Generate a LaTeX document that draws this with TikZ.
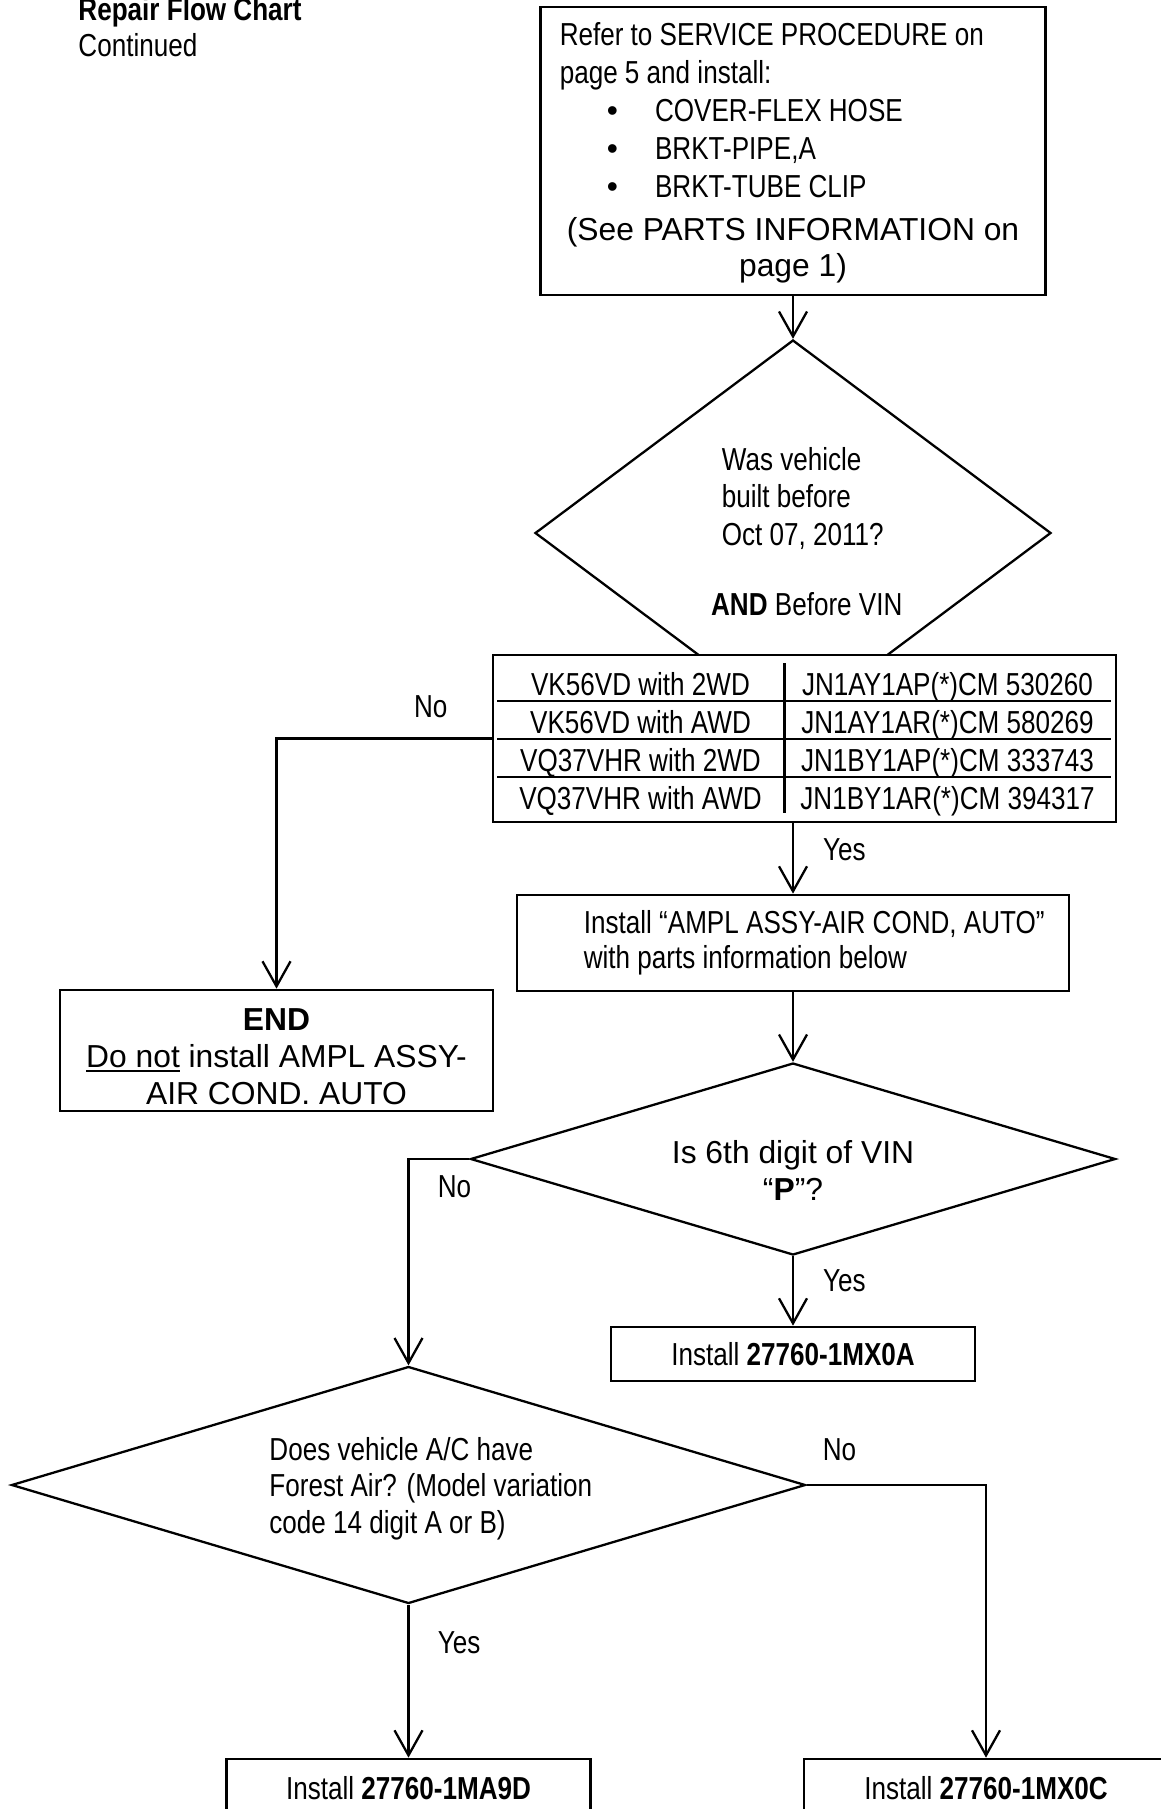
\documentclass[tikz,border=0pt]{standalone}
\usepackage{fontspec}
\setmainfont{Liberation Sans}
\newfontfamily\narrowfont{Liberation Sans}[FakeStretch=0.82]
\usetikzlibrary{shapes.geometric,arrows.meta}

\newcommand\flowsize{\fontsize{31.8}{37.5}\selectfont}
\newcommand\partitem[1]{\hspace*{47pt}\makebox[48.3pt][l]{\normalfont\textbullet}#1}
\newcommand\undl[1]{\begingroup\setbox0\hbox{#1}\rlap{\rule[-5pt]{\wd0}{2.5pt}}\box0\endgroup}

\begin{document}
\begin{tikzpicture}[x=1pt, y=-1pt, line width=2.3pt,
  flow/.style={-{Straight Barb[length=25pt,width=28pt]}},
  box/.style={draw, rectangle, line width=2.7pt, fill=white, inner sep=0pt},
  choice/.style={draw, diamond, inner sep=0pt},
  narrowtext/.style={font=\narrowfont\flowsize, inner sep=0pt},
  widetext/.style={font=\flowsize, inner sep=0pt}]

  \useasboundingbox (0,0) rectangle (1161,1809);
  \clip (0,0) rectangle (1161,1809);

  % heading
  \node[narrowtext, anchor=base west] (title) at (77.3,20.7) {\textbf{Repair Flow Chart}};
  \node[narrowtext, anchor=base west] (cont) at (77.3,56.7) {Continued};

  % service procedure
  \node[box, minimum width=505pt, minimum height=288pt] (svc) at (793,151) {};
  \node[narrowtext, align=left, anchor=base west, font=\narrowfont\fontsize{31.8}{38.2}\selectfont] (svctext) at (558.6,197.8)
    {Refer to SERVICE PROCEDURE on\\page 5 and install:\\\partitem{COVER-FLEX HOSE}\\\partitem{BRKT-PIPE,A}\\\partitem{BRKT-TUBE CLIP}};
  \node[widetext, align=center, anchor=base, font=\fontsize{31.8}{36.7}\selectfont] (svcparts) at (793,276.7)
    {(See PARTS INFORMATION on\\page 1)};

  % built before / VIN check
  \node[choice, minimum width=516pt, minimum height=386pt] (q1) at (793,533) {};
  \draw[flow] (svc) -- (q1);
  \node[narrowtext, align=left, anchor=base west, font=\narrowfont\fontsize{31.8}{37.2}\selectfont] (q1text) at (720.7,545.1)
    {Was vehicle\\built before\\Oct 07, 2011?};
  \node[narrowtext, anchor=base west] (q1and) at (710,615) {\textbf{AND} Before VIN};

  % VIN table
  \node[box, minimum width=623pt, minimum height=167pt] (vin) at (804.5,738.5) {};
  \foreach \y in {700.7,738.7,777} \draw (497,\y) -- (1111,\y);
  \draw (784.5,663) -- (784.5,813);
  \foreach \eng/\vinno [count=\r] in {VK56VD with 2WD/JN1AY1AP(*)CM 530260,
                                      VK56VD with AWD/JN1AY1AR(*)CM 580269,
                                      VQ37VHR with 2WD/JN1BY1AP(*)CM 333743,
                                      VQ37VHR with AWD/JN1BY1AR(*)CM 394317} {
    \node[narrowtext, anchor=base] (eng\r) at (640.5,657+38*\r) {\eng};
    \node[narrowtext, anchor=base] (vinno\r) at (947.5,657+38*\r) {\vinno};
  }

  % no: end
  \node[narrowtext, anchor=base west] (no1) at (413,717) {No};
  \node[box, minimum width=433pt, minimum height=121pt] (stop) at (276.5,1050.5) {};
  \node[widetext, align=center, anchor=base, font=\fontsize{31.8}{37}\selectfont] (stoptext) at (276.5,1104)
    {\textbf{END}\\\undl{Do not} install AMPL ASSY-\\AIR COND. AUTO};
  \draw[flow] (vin.west) -| (stop.north);

  % yes: install amplifier
  \node[box, minimum width=552pt, minimum height=96pt] (amp) at (793,943) {};
  \draw[flow] (vin.south -| amp.north) -- (amp.north);
  \node[narrowtext, anchor=base west] (yes1) at (822,860) {Yes};
  \node[narrowtext, align=left, anchor=base west, font=\narrowfont\fontsize{31.8}{35.5}\selectfont] (amptext) at (582.7,968.5)
    {Install “AMPL ASSY-AIR COND, AUTO”\\with parts information below};

  % 6th digit check
  \node[choice, minimum width=645pt, minimum height=192pt] (q2) at (793,1159) {};
  \draw[flow] (amp) -- (q2);
  \node[widetext, align=center, anchor=base, font=\fontsize{31.8}{36.7}\selectfont] (q2text) at (793,1200)
    {Is 6th digit of VIN\\“\textbf{P}”?};
  \node[box, narrowtext, minimum width=364pt, minimum height=54pt] (kit1) at (793,1354) {Install \textbf{27760-1MX0A}};
  \draw[flow] (q2) -- (kit1);
  \node[narrowtext, anchor=base west] (yes2) at (822,1291.7) {Yes};
  \node[narrowtext, anchor=base west] (no2) at (436.7,1197) {No};

  % forest air check
  \node[choice, minimum width=794pt, minimum height=237pt] (q3) at (408.5,1485) {};
  \draw[flow] (q2.west) -| (q3.north);
  \node[narrowtext, align=left, anchor=base west, font=\narrowfont\fontsize{31.8}{36.7}\selectfont] (q3text) at (268.3,1533.4)
    {Does vehicle A/C have\\Forest Air? (Model variation\\code 14 digit A or B)};
  \node[box, narrowtext, minimum width=364pt, minimum height=58pt] (kit2) at (408.5,1788) {Install \textbf{27760-1MA9D}};
  \node[box, narrowtext, minimum width=364pt, minimum height=58pt] (kit3) at (986,1788) {Install \textbf{27760-1MX0C}};
  \draw[flow] (q3.south) -- (kit2.north);
  \node[narrowtext, anchor=base west] (yes3) at (436.7,1653) {Yes};
  \draw[flow] (q3.east) -| (kit3.north);
  \node[narrowtext, anchor=base west] (no3) at (821.7,1460) {No};
\end{tikzpicture}
\end{document}
